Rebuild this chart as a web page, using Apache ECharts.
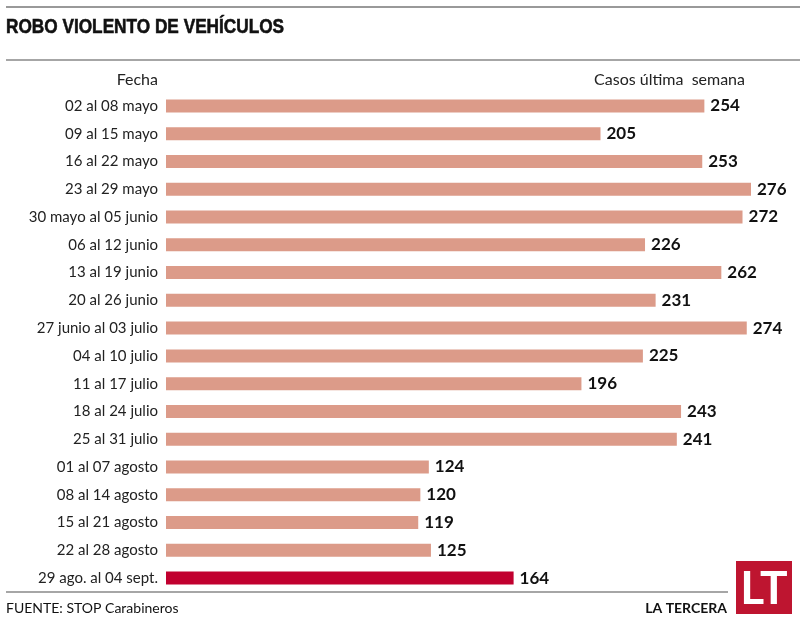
<!DOCTYPE html>
<html><head><meta charset="utf-8">
<script src="https://cdn.jsdelivr.net/npm/echarts@6/dist/echarts.min.js"></script>
<style>html,body{margin:0;padding:0;background:#fff}#c{width:800px;height:620px}</style>
</head><body><div id="c"></div>
<script>
const categories = ["02 al 08 mayo","09 al 15 mayo","16 al 22 mayo","23 al 29 mayo","30 mayo al 05 junio","06 al 12 junio","13 al 19 junio","20 al 26 junio","27 junio al 03 julio","04 al 10 julio","11 al 17 julio","18 al 24 julio","25 al 31 julio","01 al 07 agosto","08 al 14 agosto","15 al 21 agosto","22 al 28 agosto","29 ago. al 04 sept."];
const casos = [254,205,253,276,272,226,262,231,274,225,196,243,241,124,120,119,125,164];
const highlightIndex = 17;
const title = "ROBO VIOLENTO DE VEHÍCULOS";
const source = "FUENTE: STOP Carabineros";

const chart = echarts.init(document.getElementById('c'), null, {renderer:'canvas'});
const F = 'Lato, "Open Sans", sans-serif';
chart.setOption({
  animation:false,
  backgroundColor:'#fff',
  grid:{left:166,right:49,top:92,bottom:28},
  xAxis:{type:'value',min:0,max:276,show:false},
  yAxis:{type:'category',data:categories,inverse:true,
    axisLine:{show:false},axisTick:{show:false},
    axisLabel:{color:'#222',fontSize:15,fontFamily:F,margin:8}},
  series:[{type:'bar',barWidth:13,
    data:casos.map((v,i)=>({value:v,itemStyle:{color:i===highlightIndex?'#C1002F':'#DC9B89'}})),
    label:{show:true,position:'right',distance:6,color:'#111',fontWeight:'bold',fontSize:17,fontFamily:F}}],
  graphic:[
    {type:'line',shape:{x1:6,y1:7,x2:800,y2:7},style:{stroke:'#777',lineWidth:1.5}},
    {type:'text',x:6,y:27,scaleX:0.82,style:{x:0,y:0,text:title,font:'bold 21px "Liberation Sans", sans-serif',fill:'#111',verticalAlign:'middle',stroke:'#111',lineWidth:0.6}},
    {type:'line',shape:{x1:6,y1:60,x2:800,y2:60},style:{stroke:'#888',lineWidth:1.5}},
    {type:'text',x:158,y:80,style:{text:'Fecha',font:'16px '+F,fill:'#222',align:'right',verticalAlign:'middle'}},
    {type:'text',x:745,y:80,style:{text:'Casos última  semana',font:'16px '+F,fill:'#222',align:'right',verticalAlign:'middle'}},
    {type:'line',shape:{x1:6,y1:592,x2:728,y2:592},style:{stroke:'#888',lineWidth:1.5}},
    {type:'text',x:6,y:608,style:{text:source,font:'14px '+F,fill:'#111',verticalAlign:'middle'}},
    {type:'text',x:727,y:608,style:{text:'LA TERCERA',font:'bold 14px '+F,fill:'#111',align:'right',verticalAlign:'middle'}},
    {type:'rect',shape:{x:736,y:561,width:56,height:53},style:{fill:'#BE1530'}},
    {type:'text',x:764,y:589,style:{text:'LT',font:'bold 46px '+F,fill:'#fff',align:'center',verticalAlign:'middle'}}
  ]
});
</script></body></html>
